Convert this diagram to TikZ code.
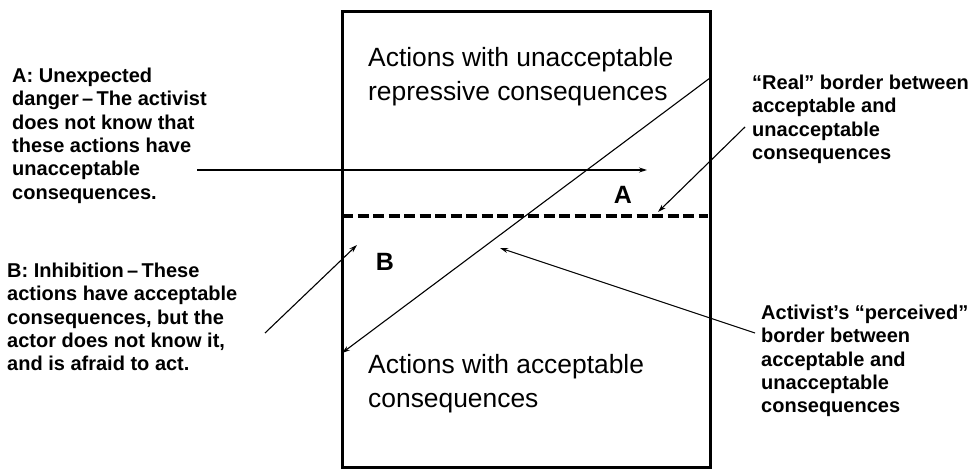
\documentclass[tikz,border=0pt]{standalone}
\usepackage{fontspec}
\setmainfont{Liberation Sans}
\usetikzlibrary{arrows.meta}
\begin{document}
\begin{tikzpicture}[x=1pt,y=-1pt,
  frame/.style={line width=3pt},
  realborder/.style={line width=3.6pt, dash pattern=on 11pt off 4.5pt},
  pointer/.style={line width=1.1pt, -{Stealth[length=8pt,width=5pt]}},
  side/.style={anchor=north west, inner sep=0pt, align=left,
    font=\bfseries\fontsize{20}{23.3}\selectfont},
  zone/.style={anchor=north west, inner sep=0pt, align=left,
    font=\fontsize{26.4}{34}\selectfont},
  letterlbl/.style={inner sep=0pt, font=\bfseries\fontsize{25}{25}\selectfont}
]
\useasboundingbox (0,0) rectangle (971,470);

% the space of possible actions
\draw[frame] (342,12) rectangle (710,467);

\node[zone] (upper) at (368,47) {Actions with unacceptable\\repressive consequences};
\node[zone] (lower) at (368,354) {Actions with acceptable\\consequences};

% real border (dashed) and perceived border (diagonal)
\coordinate (realL) at (342,216);
\coordinate (realR) at (708,216);
\draw[realborder] (realL) -- (realR);

\coordinate (percTop) at (710,78);
\coordinate (percBot) at (342,353);
\draw[pointer] (percTop) -- (percBot);

\node[letterlbl] (regA) at (623,195) {A};
\node[letterlbl] (regB) at (385,262) {B};

% explanatory labels
\node[side] (labA) at (12,68) {A: Unexpected\\danger\,–\,The activist\\does not know that\\these actions have\\unacceptable\\consequences.};
\node[side] (labB) at (7,263) {B: Inhibition\,–\,These\\actions have acceptable\\consequences, but the\\actor does not know it,\\and is afraid to act.};
\node[side] (labReal) at (752,75) {“Real” border between\\acceptable and\\unacceptable\\consequences};
\node[side] (labPerc) at (761,305) {Activist’s “perceived”\\border between\\acceptable and\\unacceptable\\consequences};

% pointers
\coordinate (aStart) at (197,170);
\coordinate (aEnd) at (647,170);
\draw[pointer] (aStart) -- (aEnd);

\coordinate (bStart) at (265,333);
\coordinate (bEnd) at (357,245);
\draw[pointer] (bStart) -- (bEnd);

\coordinate (rStart) at (745,127);
\coordinate (rEnd) at (658,212);
\draw[pointer] (rStart) -- (rEnd);

\coordinate (pStart) at (755,333);
\coordinate (pEnd) at (500,248);
\draw[pointer] (pStart) -- (pEnd);
\end{tikzpicture}
\end{document}
